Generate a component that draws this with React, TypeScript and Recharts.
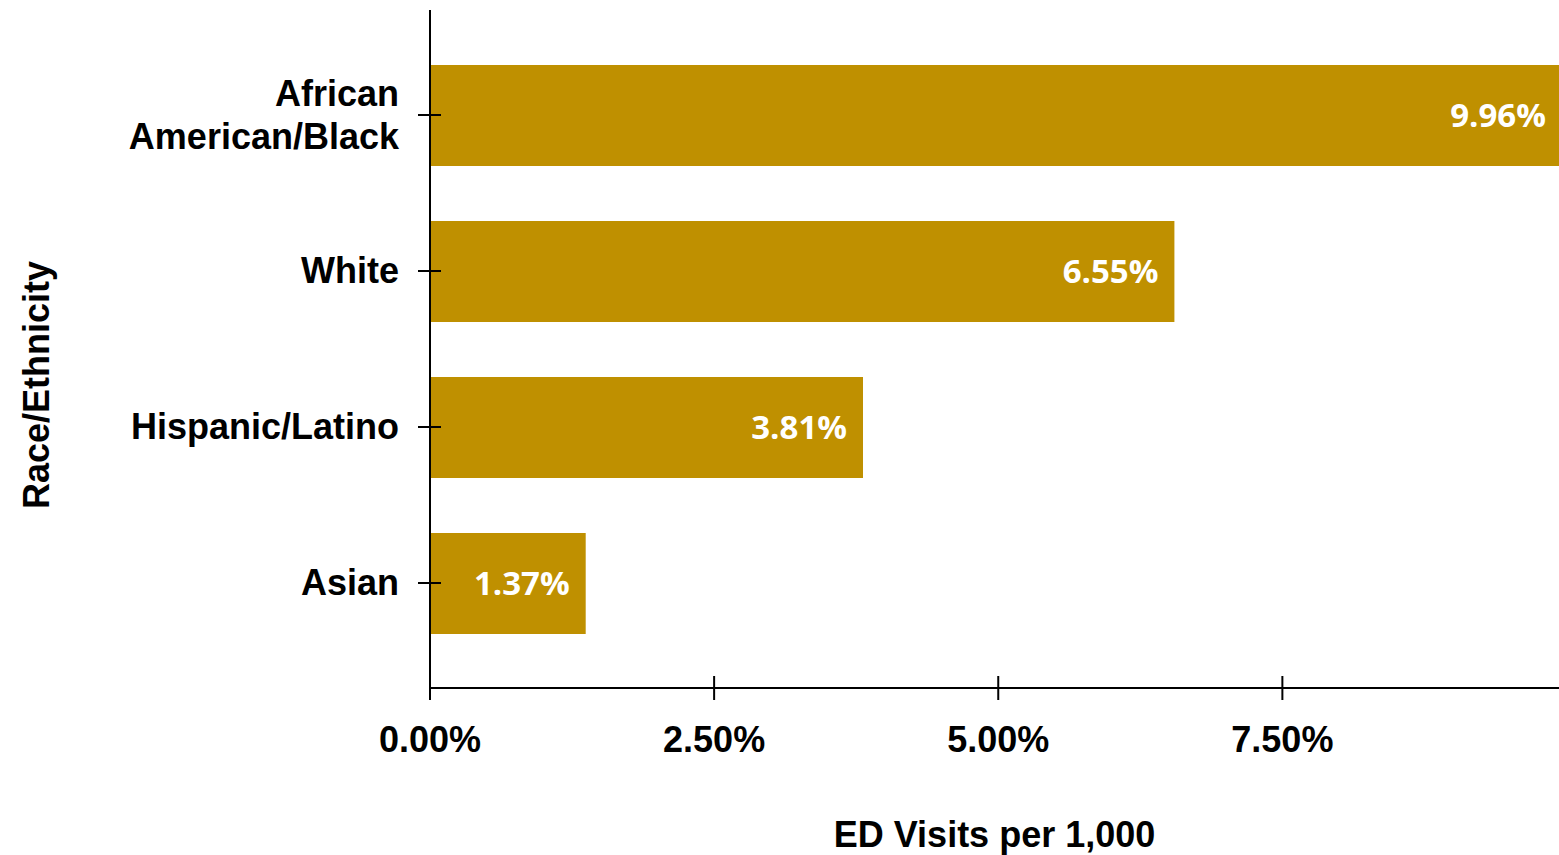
import { BarChart, Bar, XAxis, YAxis, LabelList, Label } from 'recharts';

const categories = ['African American/Black', 'White', 'Hispanic/Latino', 'Asian'];
const visitRates = [9.96, 6.55, 3.81, 1.37];
const xTicks = [0, 2.5, 5, 7.5];

const data = categories.map((name, i) => ({ name, rate: visitRates[i] }));

const axisFont = '"Liberation Sans", Arial, sans-serif';
const barColor = '#BF9000';

// category labels, split the long one over two lines like the original
const labelLines: Record<string, string[]> = {
  'African American/Black': ['African', 'American/Black'],
};

const YTick = (props: any) => {
  const { x, y, payload } = props;
  const axisX = x + 12 + 19;
  const lines = labelLines[payload.value] || [payload.value];
  const lh = 43;
  const start = y - ((lines.length - 1) * lh) / 2;
  return (
    <g>
      <line x1={axisX} x2={axisX + 11} y1={y} y2={y} stroke="#000" strokeWidth={2} />
      <text
        x={x}
        y={start}
        textAnchor="end"
        fontFamily={axisFont}
        fontWeight={700}
        fontSize={36}
        fill="#000"
      >
        {lines.map((l, i) => (
          <tspan key={i} x={x} y={start + i * lh} dy={12}>
            {l}
          </tspan>
        ))}
      </text>
    </g>
  );
};

const XTick = (props: any) => {
  const { x, y, payload } = props;
  const axisY = y - 12;
  return (
    <g>
      <line x1={x} x2={x} y1={axisY - 12} y2={axisY} stroke="#000" strokeWidth={2} />
      <text
        x={x}
        y={y + 52}
        textAnchor="middle"
        fontFamily={axisFont}
        fontWeight={700}
        fontSize={36}
        fill="#000"
      >
        {payload.value.toFixed(2) + '%'}
      </text>
    </g>
  );
};

const YTitle = (props: any) => {
  const { viewBox } = props;
  const cx = viewBox.x + 36;
  const cy = viewBox.y + viewBox.height / 2 + 36;
  return (
    <text
      x={cx}
      y={cy}
      transform={`rotate(-90, ${cx}, ${cy})`}
      textAnchor="middle"
      dominantBaseline="central"
      fontFamily={axisFont}
      fontWeight={700}
      fontSize={36}
      fill="#000"
    >
      Race/Ethnicity
    </text>
  );
};

export default function App() {
  return (
    <div style={{ position: 'absolute', left: 0, top: 0, background: '#fff' }}>
      <BarChart
        width={1559}
        height={855}
        data={data}
        layout="vertical"
        margin={{ top: 10, right: 0, left: 0, bottom: 0 }}
        barCategoryGap={27.5}
      >
        <XAxis
          type="number"
          domain={[0, 9.934]}
          allowDataOverflow
          ticks={xTicks}
          height={167}
          stroke="#000"
          strokeWidth={2}
          tickSize={12}
          tickMargin={0}
          tick={<XTick />}
        >
          <Label
            value="ED Visits per 1,000"
            position="insideBottom"
            offset={8}
            fontFamily={axisFont}
            fontWeight={700}
            fontSize={36}
            fill="#000"
          />
        </XAxis>
        <YAxis
          type="category"
          dataKey="name"
          width={430}
          padding={{ top: 27, bottom: 27 }}
          stroke="#000"
          strokeWidth={2}
          tickSize={12}
          tickMargin={19}
          tick={<YTick />}
        >
          <Label content={<YTitle />} />
        </YAxis>
        <Bar dataKey="rate" fill={barColor} barSize={101} isAnimationActive={false}>
          <LabelList
            dataKey="rate"
            position="insideRight"
            offset={16}
            formatter={(v: any) => Number(v).toFixed(2) + '%'}
            fill="#fff"
            fontFamily='"Open Sans", sans-serif'
            fontWeight={700}
            fontSize={33}
          />
        </Bar>
      </BarChart>
    </div>
  );
}
